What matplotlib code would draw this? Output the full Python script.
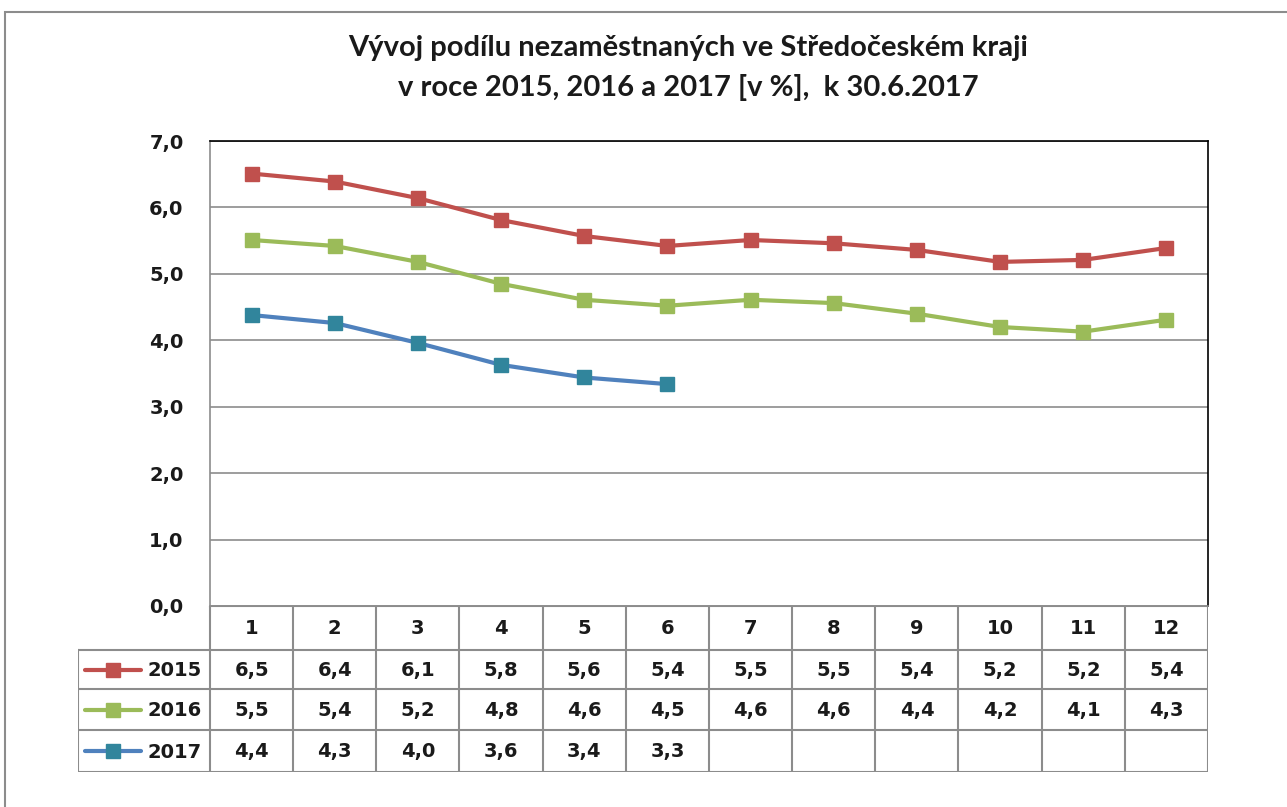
import matplotlib
matplotlib.use("Agg")
import matplotlib.pyplot as plt
from matplotlib.patches import Rectangle
from matplotlib.lines import Line2D

# ---- data ----
months = [1, 2, 3, 4, 5, 6, 7, 8, 9, 10, 11, 12]
series_names = ["2015", "2016", "2017"]
v2015 = [6.51, 6.39, 6.14, 5.81, 5.57, 5.42, 5.51, 5.46, 5.36, 5.18, 5.21, 5.39]
v2016 = [5.51, 5.42, 5.18, 4.85, 4.61, 4.52, 4.61, 4.56, 4.40, 4.20, 4.13, 4.31]
v2017 = [4.38, 4.26, 3.96, 3.63, 3.44, 3.34]
yticks = [0, 1, 2, 3, 4, 5, 6, 7]
title = "Vývoj podílu nezaměstnaných ve Středočeském kraji\nv roce 2015, 2016 a 2017 [v %],  k 30.6.2017"

series = [v2015, v2016, v2017]
line_colors = ["#C0504D", "#9BBB59", "#4F81BD"]
marker_colors = ["#C0504D", "#9BBB59", "#31859C"]

W, H = 1287, 807
fig = plt.figure(figsize=(W / 100, H / 100), dpi=100)
fig.patch.set_facecolor("white")

# outer frame
fig.add_artist(Rectangle((5 / W, -0.1), 1.2, (H - 12) / H + 0.1, transform=fig.transFigure,
                         fill=False, edgecolor="#8C8C8C", linewidth=1.5))

# main plot area
left, right, top, bottom = 210, 1208, 141, 606
ax = fig.add_axes([left / W, (H - bottom) / H, (right - left) / W, (bottom - top) / H])
ax.set_xlim(0.5, 12.5)
ax.set_ylim(0, 7)
ax.set_yticks(yticks)
ax.set_yticklabels([f"{t:.1f}".replace(".", ",") for t in yticks],
                   fontsize=14, fontweight="bold", fontfamily="DejaVu Sans", color="#1a1a1a")
ax.tick_params(axis="y", length=0, pad=19)
ax.set_xticks([])
ax.grid(axis="y", color="#8C8C8C", linewidth=1.2)
ax.set_axisbelow(True)
ax.spines["left"].set_color("#8C8C8C")
ax.spines["bottom"].set_color("#8C8C8C")
ax.spines["top"].set_color("#000000")
ax.spines["right"].set_color("#000000")
for s in ax.spines.values():
    s.set_linewidth(1.2)

for vals, lc, mc in zip(series, line_colors, marker_colors):
    ax.plot(months[:len(vals)], vals, color=lc, linewidth=3.0, marker="s",
            markersize=10, markerfacecolor=mc, markeredgecolor=mc, solid_joinstyle="round",
            zorder=3, clip_on=False)

# data table
tleft = 78
colw = (right - left) / 12
x_left_data = 0.5 - (left - tleft) / colw
tb_bottom = 772
tax = fig.add_axes([tleft / W, (H - tb_bottom) / H, (right - tleft) / W, (tb_bottom - bottom) / H])
tax.set_xlim(x_left_data, 12.5)
tax.set_ylim(tb_bottom, bottom)
tax.axis("off")

row_edges = [606, 650, 689, 730, 772]
gc = "#8C8C8C"
lw = 1.5
tax.plot([0.5, 12.5], [row_edges[0]] * 2, color=gc, lw=lw)
for yy in row_edges[1:]:
    tax.plot([x_left_data, 12.5], [yy, yy], color=gc, lw=lw)
for k in range(13):
    xx = 0.5 + k
    tax.plot([xx, xx], [row_edges[0], row_edges[-1]], color=gc, lw=lw)
tax.plot([x_left_data, x_left_data], [row_edges[1], row_edges[-1]], color=gc, lw=lw)

txt_kw = dict(fontsize=14, fontweight="bold", fontfamily="DejaVu Sans", color="#1a1a1a",
              ha="center", va="center")
hy = (row_edges[0] + row_edges[1]) / 2 + 1
for m in months:
    tax.text(m, hy, str(m), **txt_kw)
for r, (name, vals, lc, mc) in enumerate(zip(series_names, series, line_colors, marker_colors)):
    cy = (row_edges[r + 1] + row_edges[r + 2]) / 2 + 1
    for m, v in zip(months, vals):
        tax.text(m, cy, f"{v:.1f}".replace(".", ","), **txt_kw)
    x0 = x_left_data + 7 / colw
    x1 = x_left_data + 63 / colw
    tax.add_line(Line2D([x0, x1], [cy - 1, cy - 1], color=lc, lw=3.0, solid_capstyle="round"))
    tax.add_line(Line2D([(x0 + x1) / 2], [cy - 1], marker="s", markersize=10,
                        markerfacecolor=mc, markeredgecolor=mc, color=mc))
    tax.text(x_left_data + 97 / colw, cy, name, fontsize=14, fontweight="bold",
             fontfamily="DejaVu Sans", color="#1a1a1a", ha="center", va="center")

fig.text(688 / W, 1 - 68 / H, title, ha="center", va="center", fontsize=21,
         fontweight="bold", fontfamily="Lato", linespacing=1.6, color="#1a1a1a")

fig.savefig("out.png", dpi=100, facecolor="white")
